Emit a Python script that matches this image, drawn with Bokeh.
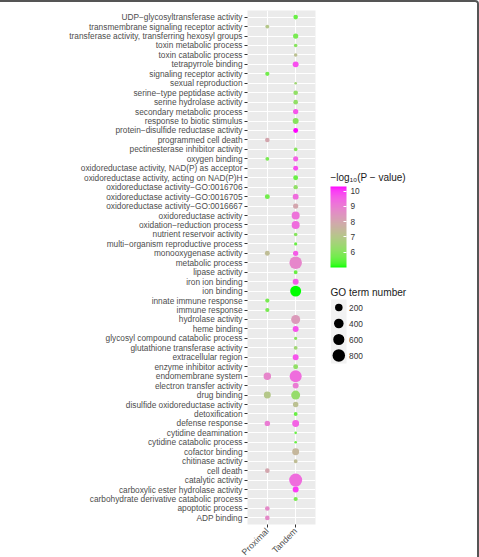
import numpy as np
from bokeh.plotting import figure
from bokeh.models import (ColumnDataSource, LinearColorMapper, ColorBar, FixedTicker,
                          FactorRange, Range1d)
from bokeh.transform import transform
from bokeh.layouts import row
from bokeh.core.properties import value
from bokeh.embed import file_html
from bokeh.resources import INLINE

# ---------------- data ----------------
terms_top_to_bottom = [
    "UDP−glycosyltransferase activity",
    "transmembrane signaling receptor activity",
    "transferase activity, transferring hexosyl groups",
    "toxin metabolic process",
    "toxin catabolic process",
    "tetrapyrrole binding",
    "signaling receptor activity",
    "sexual reproduction",
    "serine−type peptidase activity",
    "serine hydrolase activity",
    "secondary metabolic process",
    "response to biotic stimulus",
    "protein−disulfide reductase activity",
    "programmed cell death",
    "pectinesterase inhibitor activity",
    "oxygen binding",
    "oxidoreductase activity, NAD(P) as acceptor",
    "oxidoreductase activity, acting on NAD(P)H",
    "oxidoreductase activity−GO:0016706",
    "oxidoreductase activity−GO:0016705",
    "oxidoreductase activity−GO:0016667",
    "oxidoreductase activity",
    "oxidation−reduction process",
    "nutrient reservoir activity",
    "multi−organism reproductive process",
    "monooxygenase activity",
    "metabolic process",
    "lipase activity",
    "iron ion binding",
    "ion binding",
    "innate immune response",
    "immune response",
    "hydrolase activity",
    "heme binding",
    "glycosyl compound catabolic process",
    "glutathione transferase activity",
    "extracellular region",
    "enzyme inhibitor activity",
    "endomembrane system",
    "electron transfer activity",
    "drug binding",
    "disulfide oxidoreductase activity",
    "detoxification",
    "defense response",
    "cytidine deamination",
    "cytidine catabolic process",
    "cofactor binding",
    "chitinase activity",
    "cell death",
    "catalytic activity",
    "carboxylic ester hydrolase activity",
    "carbohydrate derivative catabolic process",
    "apoptotic process",
    "ADP binding",
]

groups = ["Proximal", "Tandem"]

proximal_terms = [
    "transmembrane signaling receptor activity",
    "signaling receptor activity",
    "programmed cell death",
    "oxygen binding",
    "oxidoreductase activity−GO:0016705",
    "monooxygenase activity",
    "innate immune response",
    "immune response",
    "endomembrane system",
    "drug binding",
    "defense response",
    "cell death",
    "apoptotic process",
    "ADP binding",
]
proximal_logp = [7.0, 5.7, 8.0, 5.8, 5.7, 7.3, 5.8, 5.8, 8.8, 7.0, 9.0, 8.0, 8.7, 8.7]
proximal_count = [16, 24, 36, 16, 47, 47, 24, 24, 196, 158, 69, 36, 36, 36]

tandem_terms = [
    "UDP−glycosyltransferase activity",
    "transferase activity, transferring hexosyl groups",
    "toxin metabolic process",
    "toxin catabolic process",
    "tetrapyrrole binding",
    "sexual reproduction",
    "serine−type peptidase activity",
    "serine hydrolase activity",
    "secondary metabolic process",
    "response to biotic stimulus",
    "protein−disulfide reductase activity",
    "pectinesterase inhibitor activity",
    "oxygen binding",
    "oxidoreductase activity, NAD(P) as acceptor",
    "oxidoreductase activity, acting on NAD(P)H",
    "oxidoreductase activity−GO:0016706",
    "oxidoreductase activity−GO:0016705",
    "oxidoreductase activity−GO:0016667",
    "oxidoreductase activity",
    "oxidation−reduction process",
    "nutrient reservoir activity",
    "multi−organism reproductive process",
    "monooxygenase activity",
    "metabolic process",
    "lipase activity",
    "iron ion binding",
    "ion binding",
    "hydrolase activity",
    "heme binding",
    "glycosyl compound catabolic process",
    "glutathione transferase activity",
    "extracellular region",
    "enzyme inhibitor activity",
    "endomembrane system",
    "electron transfer activity",
    "drug binding",
    "disulfide oxidoreductase activity",
    "detoxification",
    "defense response",
    "cytidine deamination",
    "cytidine catabolic process",
    "cofactor binding",
    "chitinase activity",
    "catalytic activity",
    "carboxylic ester hydrolase activity",
    "carbohydrate derivative catabolic process",
]
tandem_logp = [5.6, 5.8, 6.0, 7.2, 9.8, 6.5, 6.2, 6.2, 9.7, 6.0,
               10.3, 6.0, 9.5, 9.8, 5.6, 6.2, 9.3, 8.0, 9.2, 9.3,
               6.0, 5.6, 9.6, 8.8, 5.6, 9.6, 5.0, 8.3, 9.7, 6.0,
               6.5, 9.7, 6.2, 9.3, 9.0, 6.3, 7.2, 5.6, 9.5, 5.6,
               5.6, 7.5, 7.3, 9.3, 10.0, 5.8]
tandem_count = [36, 60, 10, 10, 94, 3, 36, 36, 60, 94,
                47, 12, 55, 47, 47, 28, 90, 60, 240, 240,
                10, 6, 60, 800, 16, 94, 576, 334, 94, 7,
                16, 90, 47, 720, 94, 334, 69, 16, 158, 3,
                3, 158, 16, 883, 94, 24]

colorbar_ticks = [6, 7, 8, 9, 10]
size_breaks = [200, 400, 600, 800]
color_title = "−log₁₀(P − value)"
size_title = "GO term number"

# ---------------- helpers ----------------
def hex_to_rgb(h):
    h = h.lstrip("#")
    return np.array([int(h[i:i + 2], 16) / 255.0 for i in (0, 2, 4)])

def rgb_to_lab(rgb):
    c = np.where(rgb <= 0.04045, rgb / 12.92, ((rgb + 0.055) / 1.055) ** 2.4)
    M = np.array([[0.4124564, 0.3575761, 0.1804375],
                  [0.2126729, 0.7151522, 0.0721750],
                  [0.0193339, 0.1191920, 0.9503041]])
    xyz = M @ c
    wp = np.array([0.95047, 1.0, 1.08883])
    t = xyz / wp
    f = np.where(t > (6 / 29) ** 3, np.cbrt(t), t / (3 * (6 / 29) ** 2) + 4 / 29)
    return np.array([116 * f[1] - 16, 500 * (f[0] - f[1]), 200 * (f[1] - f[2])])

def lab_to_hex(lab):
    L, a, b = lab
    fy = (L + 16) / 116
    fx = fy + a / 500
    fz = fy - b / 200
    f = np.array([fx, fy, fz])
    t = np.where(f > 6 / 29, f ** 3, 3 * (6 / 29) ** 2 * (f - 4 / 29))
    xyz = t * np.array([0.95047, 1.0, 1.08883])
    Minv = np.array([[3.2404542, -1.5371385, -0.4985314],
                     [-0.9692660, 1.8760108, 0.0415560],
                     [0.0556434, -0.2040259, 1.0572252]])
    c = Minv @ xyz
    c = np.clip(c, 0, 1)
    rgb = np.where(c <= 0.0031308, 12.92 * c, 1.055 * c ** (1 / 2.4) - 0.055)
    rgb = np.clip(np.round(rgb * 255), 0, 255).astype(int)
    return "#%02x%02x%02x" % tuple(rgb)

lab_lo = rgb_to_lab(hex_to_rgb("#00FF00"))
lab_hi = rgb_to_lab(hex_to_rgb("#FF00FF"))
palette = [lab_to_hex(lab_lo + (lab_hi - lab_lo) * t) for t in np.linspace(0, 1, 256)]

all_x = ["Proximal"] * len(proximal_terms) + ["Tandem"] * len(tandem_terms)
all_y = proximal_terms + tandem_terms
all_v = proximal_logp + tandem_logp
all_c = proximal_count + tandem_count

cmin, cmax = min(all_c), max(all_c)
DMIN, DMAX = 2.6, 13.0

def size_of(c):
    return DMIN + (DMAX - DMIN) * np.sqrt(max(c - cmin, 0) / (cmax - cmin))

source = ColumnDataSource(dict(group=all_x, term=all_y, logp=all_v, count=all_c,
                               size=[size_of(c) for c in all_c]))
mapper = LinearColorMapper(palette=palette, low=min(all_v), high=max(all_v))

FONT = "Liberation Sans"
TOP = 8

# ---------------- main plot ----------------
p = figure(x_range=FactorRange(*groups, range_padding=0.2, range_padding_units="absolute"),
           y_range=FactorRange(*terms_top_to_bottom[::-1], range_padding=0.2,
                               range_padding_units="absolute"),
           frame_width=68, frame_height=514,
           min_border_left=247, min_border_right=5, min_border_top=TOP, min_border_bottom=33,
           toolbar_location=None, output_backend="svg")
p.background_fill_color = "#EBEBEB"
p.border_fill_color = "white"
p.outline_line_color = None
p.xgrid.grid_line_color = "white"
p.ygrid.grid_line_color = "white"
p.xgrid.grid_line_width = 1.1
p.ygrid.grid_line_width = 1.1

p.scatter(x="group", y="term", size="size", source=source,
          fill_color=transform("logp", mapper), line_color=None, fill_alpha=1.0)

for ax in (p.xaxis[0], p.yaxis[0]):
    ax.axis_line_color = None
    ax.major_tick_line_color = "#333333"
    ax.major_tick_out = 3
    ax.major_tick_in = 0
    ax.minor_tick_line_color = None
    ax.major_label_text_font = FONT
    ax.major_label_text_font_size = "8.3px"
    ax.major_label_text_color = "#4D4D4D"
    ax.major_label_standoff = 2
p.xaxis.major_label_orientation = np.pi / 4
p.xaxis.major_label_text_font_size = "8.8px"

# ---------------- legend panel ----------------
LW, LH = 157, 555
leg = figure(frame_width=LW, frame_height=LH - TOP, x_range=Range1d(0, LW),
             y_range=Range1d(LH, TOP),
             min_border=0, min_border_top=TOP, x_axis_location=None, y_axis_location=None,
             toolbar_location=None, output_backend="svg")
leg.grid.visible = False
leg.outline_line_color = None
leg.background_fill_color = "white"

cb = ColorBar(color_mapper=mapper, ticker=FixedTicker(ticks=colorbar_ticks),
              width=16, height=81, padding=0, location=(10, LH - 265),
              title=None,
              major_label_text_font=FONT, major_label_text_font_size="8.3px",
              major_label_text_color="#333333", label_standoff=4,
              major_tick_line_color="white", major_tick_in=3, major_tick_out=0,
              bar_line_color=None, border_line_color=None,
              background_fill_alpha=0)
leg.add_layout(cb)
leg.text(x=[10], y=[175], text=[color_title], text_font=value(FONT),
         text_font_size="10px", text_color="#1A1A1A", text_baseline="middle",
         text_align="left")

# size legend
key_x = 18.3
key_top = 297
key_h = 16
key_y = [key_top + key_h * (i + 0.5) for i in range(len(size_breaks))]
leg.rect(x=key_x, y=key_top + key_h * len(size_breaks) / 2, width=15.5,
         height=key_h * len(size_breaks), fill_color="#F2F2F2", line_color=None)
leg.scatter(x=[key_x] * len(size_breaks), y=key_y,
            size=[size_of(b) for b in size_breaks], fill_color="black", line_color=None)
leg.text(x=[key_x + 10.3] * len(size_breaks), y=key_y, text=[str(b) for b in size_breaks],
         text_font=value(FONT), text_font_size="8.3px", text_color="#333333",
         text_baseline="middle", text_align="left")
leg.text(x=[10], y=[290], text=[size_title], text_font=value(FONT),
         text_font_size="10.1px", text_color="#1A1A1A", text_baseline="middle",
         text_align="left")

layout = row(p, leg, styles={"border-top": "2px solid #555555",
                             "border-right": "2px solid #555555",
                             "border-top-right-radius": "4px"})

open("out.html", "w").write(file_html(layout, INLINE))
